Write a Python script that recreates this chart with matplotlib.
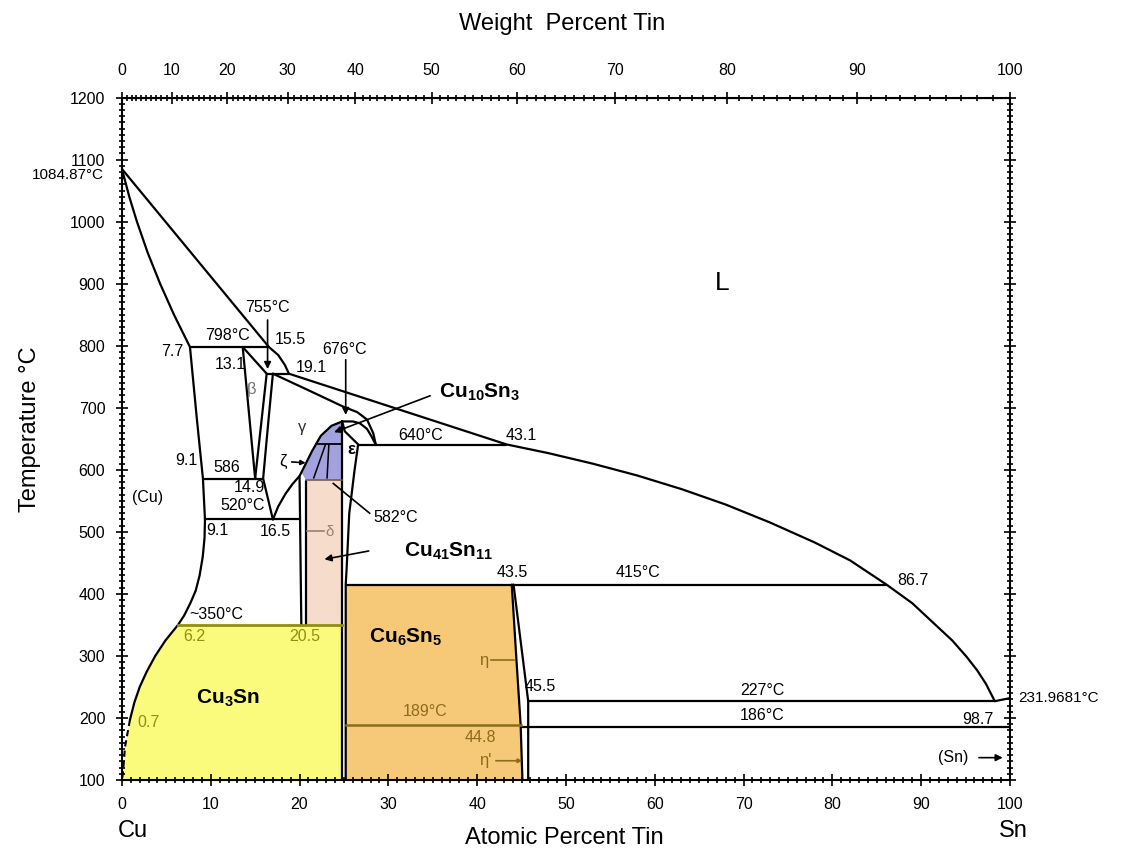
import numpy as np
import matplotlib.pyplot as plt
from matplotlib.ticker import MultipleLocator

plt.rcParams['font.family'] = ['Liberation Sans', 'DejaVu Sans']
plt.rcParams['mathtext.fontset'] = 'custom'
plt.rcParams['mathtext.rm'] = 'Liberation Sans'
plt.rcParams['mathtext.bf'] = 'Liberation Sans:bold'

M_CU = 63.546
M_SN = 118.71

# =============================================
# Phase boundaries: (at% Sn, degC)
# =============================================
liq_cu_at = [0, 16.55]
liq_cu_T = [1085, 798]
liq_bend_at = [16.55, 17.6, 18.35, 18.8]
liq_bend_T = [798, 785, 769, 755]
liq_sn_at = [18.8, 43.3, 48.0, 53.0, 58.0, 63.0, 68.0, 73.0, 78.0, 82.0, 86.1,
             89.0, 91.4, 93.5, 95.1, 96.3, 97.3, 98.3, 100]
liq_sn_T = [755, 641, 627, 610, 591, 569, 544, 515, 483, 454, 415,
            385, 353, 325, 299, 277, 255, 227, 232]

sol_cu_at = [0, 0.83, 1.69, 2.9, 4.3, 5.86, 7.66]
sol_cu_T = [1085, 1040, 1000, 950, 900, 850, 798]

alpha_at = [7.66, 8.45, 9.12, 9.35, 9.3, 9.1, 8.75, 8.3, 7.7, 7.0, 6.31, 4.9, 3.75, 2.8, 2.0, 1.4, 0.9]
alpha_T = [798, 680, 586, 520, 490, 460, 430, 405, 385, 365, 350, 325, 300, 275, 250, 225, 197]
alpha_low_at = [0.9, 0.34, 0.11, 0]
alpha_low_T = [197, 153, 111, 100]

# invariant (horizontal) lines
inv_T = [798, 755, 586, 520, 640, 415, 227, 186]
inv_lo = [7.66, 16.3, 9.12, 9.35, 26.6, 25.2, 45.75, 44.9]
inv_hi = [16.55, 18.8, 15.9, 20.05, 43.3, 86.1, 98.3, 100]

beta_left_at = [13.6, 15.0]
beta_left_T = [798, 586]
beta_top_at = [13.6, 16.3]
beta_top_T = [798, 755]
beta_right_at = [16.3, 15.0]
beta_right_T = [755, 586]

gamma_left_at = [17.0, 16.5, 15.9, 17.0]
gamma_left_T = [755, 680, 586, 520]
gamma_right_at = [17.0, 17.6, 18.4, 19.2, 20.0, 20.6, 21.4, 22.4, 23.6, 24.8]
gamma_right_T = [520, 541, 561, 577, 590, 607, 630, 655, 671, 678]
gamma_top_at = [17.0, 20.9, 24.9, 26.5, 27.6, 28.3, 28.6]
gamma_top_T = [755, 729, 702, 693, 681, 659, 640]
dome_at = [24.8, 26.0, 26.8, 27.6, 28.1, 28.6]
dome_T = [678, 678, 675, 666, 654, 640]

delta_a_at = [20.0, 20.2]
delta_a_T = [590, 350]
delta_b_at = [20.7, 20.7]
delta_b_T = [582, 350]
eps_left_at = [24.73, 24.73]
eps_left_T = [678, 100]
eps_right_at = [24.8, 25.1, 26.6, 26.2, 25.6, 25.3, 25.2, 25.2]
eps_right_T = [678, 662, 641, 600, 530, 440, 415, 100]

zeta_line_at = [21.8, 24.8]
zeta_line_T = [641, 641]
zeta_a_at = [22.9, 21.6]
zeta_a_T = [640, 587]
zeta_b_at = [23.3, 23.1]
zeta_b_T = [640, 587]

eta_in_at = [43.9, 44.4, 44.9, 45.1]
eta_in_T = [415, 300, 189, 100]
eta_out_at = [44.1, 45.75, 45.75]
eta_out_T = [415, 227, 100]

cu3sn_T = 350
cu3sn_lo, cu3sn_hi = 6.31, 24.73
line189_T = 189
line189_lo, line189_hi = 25.2, 44.9

# region fills
yellow_at = [24.73, 6.31, 4.9, 3.75, 2.8, 2.0, 1.4, 0.9, 0.34, 0.11, 0, 24.73]
yellow_T = [350, 350, 325, 300, 275, 250, 225, 197, 153, 111, 100, 100]
pink_at = [20.7, 24.73, 24.73, 20.7]
pink_T = [350, 350, 583, 583]
orange_at = [25.2, 25.2, 43.9, 44.4, 44.9, 45.1]
orange_T = [100, 415, 415, 300, 189, 100]
blue_at = [20.2, 20.6, 21.4, 22.4, 23.6, 24.8, 24.8, 20.7]
blue_T = [596, 607, 630, 655, 671, 678, 584, 584]

# plain labels: text, at%, degC
lbl_text = ["755°C", "798°C", "15.5", "13.1", "19.1", "676°C", "640°C", "43.1",
            "586", "14.9", "520°C", "16.5", "582°C", "43.5", "415°C", "86.7",
            "~350°C", "45.5", "227°C", "186°C", "98.7", "(Cu)", "9.1", "9.1", "7.7"]
lbl_at = [16.4, 11.9, 19.0, 12.2, 21.3, 25.1, 33.6, 45.0,
          11.8, 14.4, 13.6, 17.3, 30.8, 43.9, 58.1, 89.1,
          10.6, 47.1, 72.1, 72.1, 96.4, 2.9, 7.3, 10.8, 6.9]
lbl_T = [861, 817, 810, 770, 765, 794, 656, 656,
         604, 572, 542, 500, 523, 435, 435, 421,
         366, 250, 245, 204, 197, 555, 615, 502, 791]

olive_text = ["6.2", "20.5", "0.7"]
olive_at = [8.2, 20.6, 3.0]
olive_T = [331, 331, 192]
brown_text = ["189°C", "44.8"]
brown_at = [34.1, 40.4]
brown_T = [210, 168]

wt_ticks = list(range(0, 101, 10))
at_ticks = list(range(0, 101, 10))
T_ticks = list(range(100, 1201, 100))

YELLOW = "#fafa7c"
ORANGE = "#f6c978"
PINK = "#f6dccb"
BLUE = "#a2a2de"
OLIVE = "#8f8f10"
BROWN = "#8c6c1c"


def at_to_wt(a):
    a = np.asarray(a, dtype=float)
    return 100 * a * M_SN / (a * M_SN + (100 - a) * M_CU)


def wt_to_at(w):
    w = np.asarray(w, dtype=float)
    return 100 * (w / M_SN) / (w / M_SN + (100 - w) / M_CU)


fig = plt.figure(figsize=(11.25, 8.68), dpi=100)
ax = fig.add_axes([0.1084, 0.1014, 0.7893, 0.7861])
ax.set_xlim(0, 100)
ax.set_ylim(100, 1200)

# fills
ax.fill(yellow_at, yellow_T, color=YELLOW, lw=0, zorder=1)
ax.fill(pink_at, pink_T, color=PINK, lw=0, zorder=1)
ax.fill(orange_at, orange_T, color=ORANGE, lw=0, zorder=1)
ax.fill(blue_at, blue_T, color=BLUE, lw=0, zorder=1)

kw = dict(color="black", lw=1.6, zorder=3, solid_capstyle="round", solid_joinstyle="round")
for xs, ts in [(liq_cu_at, liq_cu_T), (liq_bend_at, liq_bend_T), (liq_sn_at, liq_sn_T),
               (sol_cu_at, sol_cu_T), (alpha_at, alpha_T),
               (beta_left_at, beta_left_T), (beta_top_at, beta_top_T),
               (beta_right_at, beta_right_T), (gamma_left_at, gamma_left_T),
               (gamma_right_at, gamma_right_T), (gamma_top_at, gamma_top_T),
               (dome_at, dome_T), (delta_a_at, delta_a_T), (delta_b_at, delta_b_T),
               (eps_left_at, eps_left_T), (eps_right_at, eps_right_T),
               (eta_in_at, eta_in_T), (eta_out_at, eta_out_T)]:
    ax.plot(xs, ts, **kw)
ax.plot(alpha_low_at, alpha_low_T, color="black", lw=1.5, ls=(0, (3, 2)), zorder=3)

for t, lo, hi in zip(inv_T, inv_lo, inv_hi):
    ax.plot([lo, hi], [t, t], **kw)

ax.plot(zeta_line_at, zeta_line_T, color="black", lw=1.3, zorder=3)
ax.plot(zeta_a_at, zeta_a_T, color="black", lw=1.1, zorder=3)
ax.plot(zeta_b_at, zeta_b_T, color="black", lw=1.1, zorder=3)
ax.plot([20.7, 24.73], [583, 583], color="#6b5040", lw=1.1, zorder=3)

ax.plot([cu3sn_lo, cu3sn_hi], [cu3sn_T, cu3sn_T], color=OLIVE, lw=2.0, zorder=3)
ax.plot([line189_lo, line189_hi], [line189_T, line189_T], color=BROWN, lw=1.8, zorder=3)

# labels
for s, x, t in zip(lbl_text, lbl_at, lbl_T):
    ha = "right" if s in ("7.7",) else "center"
    ax.text(x, t, s, fontsize=11.5, ha=ha, va="center", zorder=4)
for s, x, t in zip(olive_text, olive_at, olive_T):
    ax.text(x, t, s, fontsize=11.5, ha="center", va="center", color=OLIVE, zorder=4)
for s, x, t in zip(brown_text, brown_at, brown_T):
    ax.text(x, t, s, fontsize=11.5, ha="center", va="center", color=BROWN, zorder=4)

ax.text(67.6, 901, "L", fontsize=19, ha="center", va="center")
ax.text(14.6, 730, "β", fontsize=12, ha="center", va="center", color="#707070")
ax.text(20.3, 668, "γ", fontsize=12, ha="center", va="center", color="#303030")
ax.text(25.8, 633, "ε", fontsize=12, ha="center", va="center", fontweight="bold")
ax.text(18.1, 613, "ζ", fontsize=12, ha="center", va="center")
ax.text(23.4, 500, "δ", fontsize=11, ha="center", va="center", color="#9a8070")
ax.text(40.8, 292, "η", fontsize=12, ha="center", va="center", color=BROWN)
ax.text(40.9, 131, "η'", fontsize=12, ha="center", va="center", color=BROWN)
ax.text(93.6, 136, "(Sn)", fontsize=11.5, ha="center", va="center")

ax.text(40.3, 725, r"$\mathbf{Cu_{10}Sn_3}$", fontsize=15, ha="center", va="center")
ax.text(36.8, 468, r"$\mathbf{Cu_{41}Sn_{11}}$", fontsize=15, ha="center", va="center")
ax.text(31.9, 330, r"$\mathbf{Cu_6Sn_5}$", fontsize=15, ha="center", va="center")
ax.text(11.9, 232, r"$\mathbf{Cu_3Sn}$", fontsize=15, ha="center", va="center")

ax.text(-2.0, 1076, "1084.87°C", fontsize=11, ha="right", va="center", clip_on=False)
ax.text(100.9, 232, "231.9681°C", fontsize=11, ha="left", va="center", clip_on=False)

# arrows and leaders
arr = dict(arrowstyle="-|>", color="black", lw=1.2, mutation_scale=10)
ax.annotate("", xy=(16.4, 758), xytext=(16.4, 846), arrowprops=arr, zorder=4)
ax.annotate("", xy=(25.2, 684), xytext=(25.2, 782), arrowprops=arr, zorder=4)
ax.annotate("", xy=(23.6, 659), xytext=(35.0, 721), arrowprops=arr, zorder=4)
ax.annotate("", xy=(22.5, 455), xytext=(28.1, 470), arrowprops=arr, zorder=4)
ax.annotate("", xy=(21.0, 611), xytext=(18.8, 613), arrowprops=dict(arr, mutation_scale=7), zorder=4)
ax.annotate("", xy=(99.5, 136), xytext=(96.2, 136), arrowprops=arr, zorder=4)
ax.annotate("", xy=(45.4, 131), xytext=(41.8, 131), arrowprops=dict(arr, color=BROWN, mutation_scale=6), zorder=4)
ax.plot([23.8, 27.9], [578, 530], color="black", lw=1.2, zorder=4)
ax.plot([41.6, 44.1], [293, 293], color=BROWN, lw=1.2, zorder=4)
ax.plot([20.8, 22.7], [501, 501], color="#9a8070", lw=1.2, zorder=4)

# axes, ticks
ax.set_xticks(at_ticks)
ax.set_yticks(T_ticks)
ax.xaxis.set_minor_locator(MultipleLocator(1))
ax.yaxis.set_minor_locator(MultipleLocator(10))
ax.tick_params(which="both", direction="inout", right=True, top=False, labelsize=11.5, width=1.2)
ax.tick_params(which="major", length=8, pad=8)
ax.tick_params(which="minor", length=4)
for sp in ax.spines.values():
    sp.set_linewidth(1.5)

secax = ax.secondary_xaxis("top", functions=(at_to_wt, wt_to_at))
secax.set_xticks(wt_ticks)
secax.xaxis.set_minor_locator(MultipleLocator(1))
secax.tick_params(which="both", direction="inout", labelsize=11.5, width=1.2)
secax.tick_params(which="major", length=8, pad=10)
secax.tick_params(which="minor", length=4)

fig.text(0.50, 0.972, "Weight  Percent Tin", fontsize=17, ha="center", va="center")
fig.text(0.502, 0.035, "Atomic Percent Tin", fontsize=17, ha="center", va="center")
fig.text(0.118, 0.043, "Cu", fontsize=17, ha="center", va="center")
fig.text(0.901, 0.043, "Sn", fontsize=17, ha="center", va="center")
fig.text(0.027, 0.505, "Temperature °C", fontsize=17, ha="center", va="center", rotation=90)

fig.savefig("out.png", dpi=100)
